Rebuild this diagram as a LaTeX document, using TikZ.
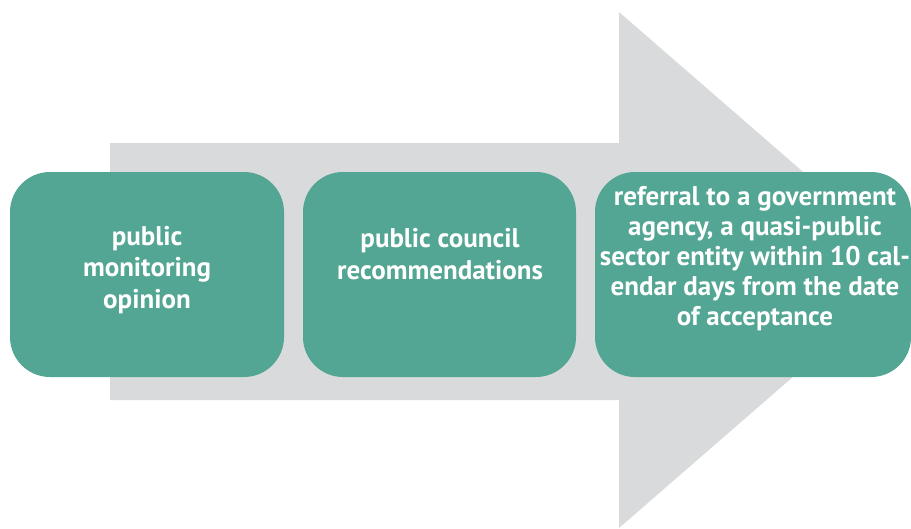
\documentclass[tikz,border=0pt]{standalone}
\usepackage{fontspec}
\setmainfont{PT Sans}
\definecolor{teal1}{HTML}{52A693}
\definecolor{arrowgray}{HTML}{D9DADB}
\begin{document}
\begin{tikzpicture}[x=1pt,y=-1pt,
  box/.style={fill=teal1,rounded corners=40pt},
  lbl/.style={text=white,align=center,font=\bfseries\fontsize{27}{31.5}\selectfont,inner sep=0pt},
  lblsm/.style={lbl,font=\bfseries\fontsize{27}{30}\selectfont}]
\useasboundingbox (0,0) rectangle (911,528);
\begin{scope}
\clip (0,0) rectangle (911,528);
\fill[arrowgray] (110,143) -- (619,143) -- (619,12) -- (916,270) -- (619,528) -- (619,400) -- (110,400) -- cycle;
\fill[box] (10,172) rectangle (284,377);
\fill[box] (303,172) rectangle (576,377);
\fill[box] (595,172) rectangle (911,377);
\end{scope}
\node[lbl] (t1) at (147,270) {public\\monitoring\\opinion};
\node[lbl] (t2) at (440,254) {public council\\recommendations};
\node[lblsm] (t3) at (755,259) {referral to a government\\agency, a quasi-public\\sector entity within 10 cal-\\endar days from the date\\of acceptance};
\end{tikzpicture}
\end{document}
